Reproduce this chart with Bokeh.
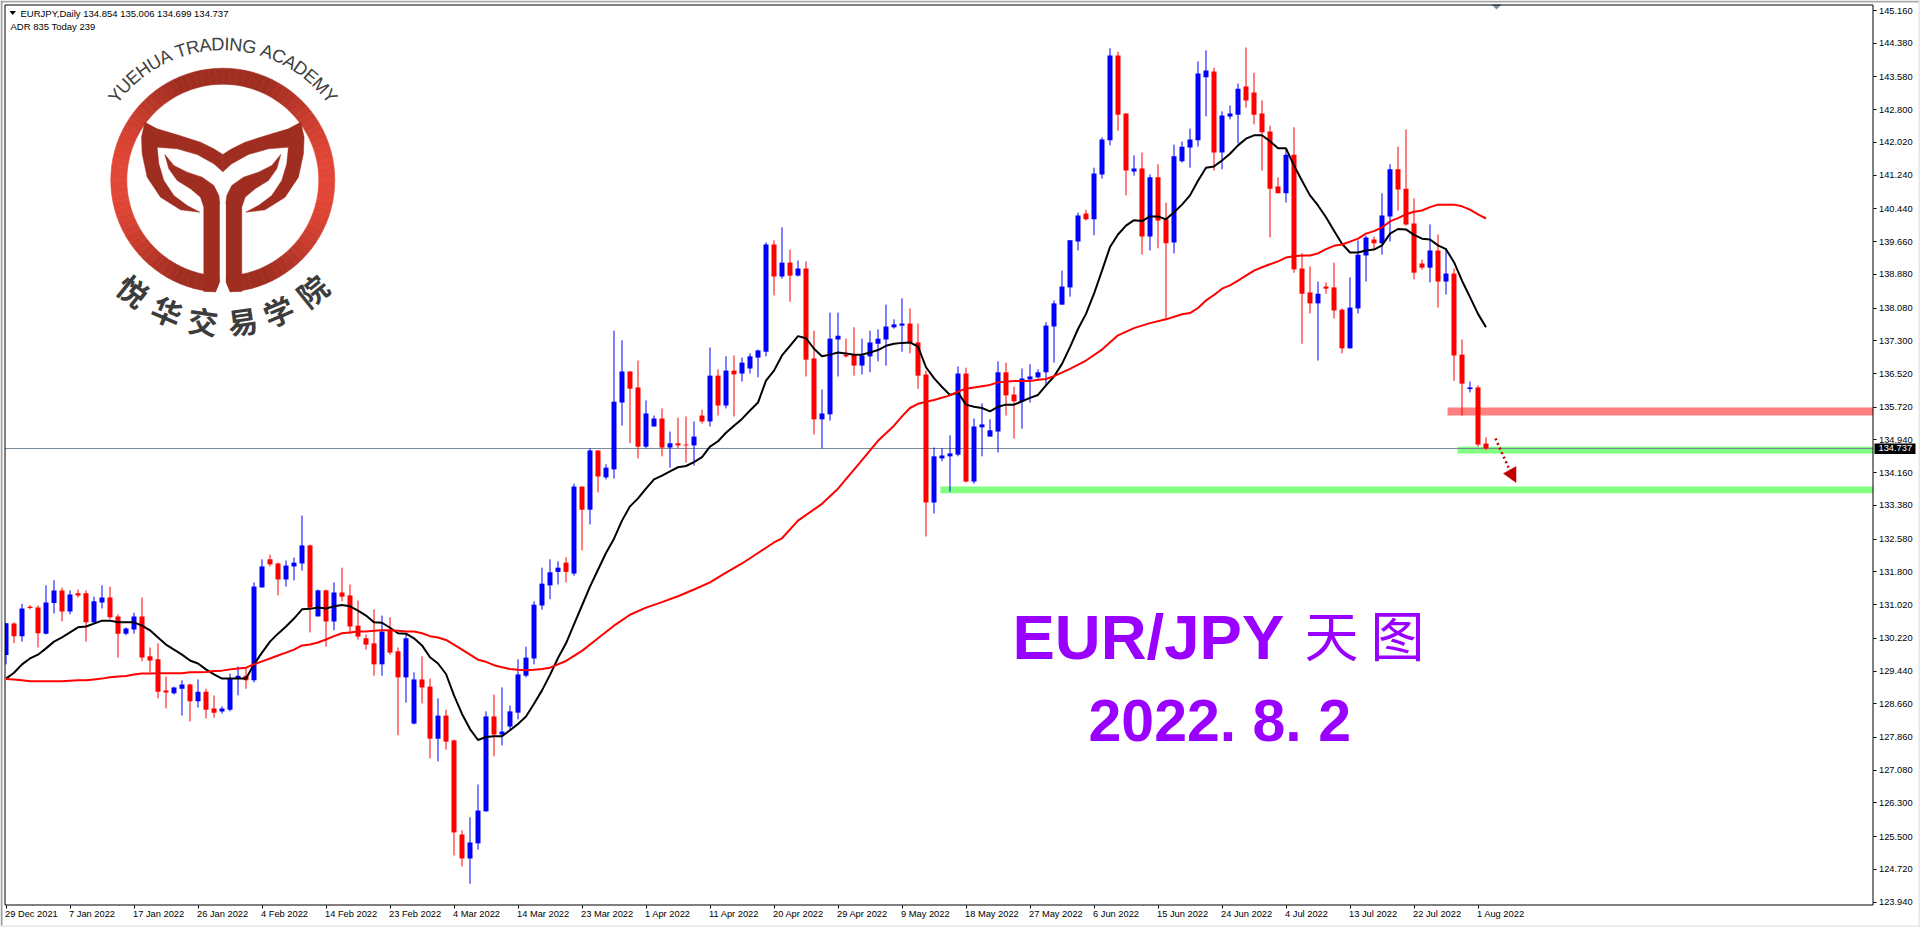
import math
from bokeh.plotting import figure
from bokeh.embed import file_html
from bokeh.resources import INLINE
from bokeh.models import ColumnDataSource, FixedTicker, NumeralTickFormatter, Range1d
from bokeh.core.properties import value

# ---------- data ----------
opens = [129.82,130.57,130.27,130.97,130.95,130.33,131.06,131.36,130.86,131.29,
131.29,130.60,131.07,131.19,130.74,130.33,130.43,130.74,129.79,129.72,
128.98,128.91,129.02,129.12,128.72,128.95,128.55,128.48,128.52,129.26,
129.33,129.22,131.43,132.10,132.00,131.62,131.93,132.00,132.43,130.74,
131.36,130.62,131.31,131.24,130.52,130.22,130.10,129.60,130.41,129.91,
129.29,128.19,129.24,129.07,127.83,128.38,127.79,125.55,124.98,125.34,
126.10,128.36,127.93,128.12,128.45,129.33,129.74,131.00,131.48,131.80,
132.02,131.76,133.83,133.28,134.69,134.05,134.24,135.83,136.57,136.19,
134.78,135.26,135.45,134.76,134.86,134.83,134.81,135.52,135.38,136.47,
135.76,136.59,136.52,136.64,136.90,137.04,139.59,138.83,139.16,138.85,
139.02,136.88,135.43,135.55,137.33,136.97,136.97,136.71,136.93,137.23,
137.33,137.62,137.66,137.71,137.26,136.50,133.45,134.50,134.55,134.59,
136.52,133.95,135.24,135.02,135.14,136.55,136.02,135.86,136.38,136.43,
136.55,137.64,138.16,138.57,139.66,140.33,140.19,141.26,142.07,144.09,
142.71,141.33,141.40,139.78,141.19,140.19,139.64,141.57,141.90,142.07,
143.57,143.71,141.78,142.64,142.68,143.35,143.21,142.71,142.28,140.97,
140.81,141.73,139.02,138.45,138.19,138.59,138.57,138.04,137.12,138.07,
139.33,139.71,139.62,140.26,141.38,140.92,140.09,139.14,139.04,139.45,
138.71,138.90,136.97,136.15,136.19,134.854]
highs = [130.58,130.60,131.04,131.01,131.00,131.48,131.60,131.43,131.36,131.38,
131.36,131.21,131.48,131.45,130.79,130.48,130.83,131.19,130.00,130.10,
129.31,129.07,129.22,129.14,129.24,129.02,128.86,128.60,129.38,129.55,
129.52,131.55,132.10,132.21,132.02,132.07,132.14,133.14,132.45,131.38,
131.38,131.55,131.90,131.50,131.12,130.31,130.91,130.76,130.72,130.00,
130.31,129.41,129.79,129.26,128.79,128.52,127.81,125.65,125.96,126.74,
128.48,128.88,129.05,128.62,129.72,130.02,131.10,131.90,132.10,132.05,
132.15,133.90,133.83,134.74,134.69,134.36,137.54,137.31,136.57,136.83,
135.88,135.52,135.69,135.14,135.47,135.50,135.38,135.66,137.14,136.62,
136.93,136.95,136.90,137.00,137.09,139.64,139.69,140.00,139.47,139.21,
139.19,137.54,136.14,137.97,137.97,137.35,137.62,137.35,137.54,137.57,
138.16,137.81,138.31,138.07,137.71,136.59,134.76,134.74,135.05,136.69,
136.66,135.45,135.81,135.43,136.81,136.78,136.21,136.64,136.74,136.62,
137.74,138.26,138.97,139.69,140.35,140.42,141.42,142.14,144.26,144.18,
142.71,141.71,141.78,141.26,141.50,140.59,141.97,142.04,142.35,143.95,
144.21,143.80,142.76,142.90,143.42,144.28,143.68,143.02,142.42,141.19,
141.88,142.38,139.38,139.07,138.71,138.69,139.16,138.07,138.81,139.69,
139.80,139.78,140.81,141.50,141.92,142.33,140.69,139.23,140.07,139.83,
139.50,139.02,137.33,136.33,136.24,135.006]
lows = [129.60,130.10,130.14,130.91,130.00,130.31,130.81,130.62,130.79,131.19,
130.14,130.57,130.93,130.67,129.76,130.29,130.33,129.67,129.41,128.79,
128.55,128.88,128.38,128.24,128.57,128.31,128.33,128.43,128.48,128.86,
129.02,129.17,131.43,131.93,131.24,131.45,131.60,131.83,130.36,130.74,
130.02,130.41,131.10,130.33,130.19,129.95,129.33,129.33,129.83,127.91,
128.69,128.17,128.67,127.36,127.29,127.57,125.05,124.79,124.38,125.19,
126.10,127.41,127.67,128.03,128.29,129.29,129.60,130.90,131.15,131.50,
131.55,131.71,132.31,132.93,133.69,134.00,134.02,135.28,134.86,134.50,
134.74,135.26,134.55,134.28,134.74,134.40,134.33,135.33,135.26,135.52,
135.69,135.50,136.33,136.52,136.43,136.93,138.38,138.78,138.23,138.83,
136.45,135.07,134.74,135.40,136.45,136.90,136.47,136.50,136.55,136.81,
136.71,137.59,137.04,137.00,136.16,132.64,133.19,134.43,133.71,134.55,
133.93,133.90,134.55,135.02,134.64,135.52,134.97,135.21,135.83,136.40,
136.24,136.78,138.16,138.35,139.45,140.16,139.81,141.16,141.95,142.30,
140.76,141.23,139.35,139.45,139.50,137.81,139.38,141.54,141.42,141.92,
142.64,141.35,141.38,142.57,142.00,142.85,142.45,141.35,139.76,140.81,
140.59,138.92,137.23,137.95,136.83,138.42,137.83,137.00,137.12,137.95,
138.71,139.47,139.35,139.66,140.40,140.04,138.76,138.99,138.69,138.09,
138.40,136.35,135.52,136.07,134.78,134.699]
closes = [130.58,130.27,130.93,130.94,130.34,131.07,131.36,130.86,131.26,131.24,
130.60,131.10,131.19,130.72,130.33,130.45,130.74,129.76,129.69,128.95,
128.93,129.05,129.12,128.72,128.95,128.52,128.45,128.55,129.26,129.33,
129.22,131.45,131.93,131.98,131.62,131.95,132.02,132.43,130.95,131.36,
130.62,131.31,131.21,130.50,130.26,130.07,129.60,130.38,129.88,129.29,
130.22,129.24,129.05,127.83,128.38,127.76,125.60,124.98,125.36,126.12,
128.36,127.93,128.00,128.48,129.36,129.76,131.02,131.52,131.79,131.90,
131.80,133.83,133.28,134.69,134.07,134.28,135.85,136.57,136.16,134.78,
135.57,135.45,134.76,134.86,134.81,134.81,135.02,135.38,136.47,135.76,
136.59,136.50,136.78,136.93,137.07,139.59,138.83,139.16,138.85,139.02,
136.85,135.43,135.57,137.35,137.42,136.93,136.71,136.95,137.26,137.35,
137.64,137.69,137.71,137.26,136.47,133.45,134.55,134.57,134.62,136.52,
133.95,135.26,135.31,135.17,136.55,136.00,135.86,136.40,136.45,136.55,
137.66,138.19,138.59,139.69,140.28,140.19,141.28,142.09,144.09,142.68,
141.35,141.40,139.78,141.19,140.16,139.62,141.69,141.92,142.09,143.66,
143.73,141.78,142.66,142.71,143.30,143.02,142.68,142.26,140.92,140.81,
141.73,139.00,138.42,138.19,138.42,138.54,138.02,137.12,138.09,139.35,
139.76,139.62,140.28,141.38,140.90,140.07,138.92,139.04,139.45,138.71,
138.90,136.95,136.28,136.19,134.83,134.737]

black_ma = [129.26,129.40,129.60,129.74,129.83,129.98,130.14,130.24,130.36,130.48,
130.50,130.57,130.64,130.64,130.60,130.60,130.60,130.52,130.41,130.24,
130.07,129.95,129.83,129.69,129.62,129.48,129.36,129.26,129.26,129.26,
129.26,129.60,129.88,130.14,130.33,130.50,130.69,130.91,130.92,130.95,
130.93,130.98,131.01,130.98,130.88,130.76,130.60,130.59,130.47,130.34,
130.33,130.22,130.05,129.77,129.62,129.37,128.86,128.42,128.06,127.80,
127.87,127.89,127.89,128.03,128.18,128.36,128.66,128.98,129.35,129.75,
130.10,130.55,131.00,131.45,131.85,132.25,132.59,133.02,133.36,133.55,
133.78,134.00,134.09,134.19,134.29,134.32,134.41,134.53,134.78,134.91,
135.11,135.28,135.44,135.64,135.83,136.35,136.59,136.95,137.18,137.41,
137.36,137.11,136.93,136.97,137.02,137.00,136.97,136.97,137.02,137.08,
137.18,137.23,137.25,137.26,137.16,136.67,136.41,136.20,136.01,136.07,
135.78,135.73,135.70,135.62,135.73,135.78,135.78,135.86,135.94,136.01,
136.24,136.45,136.75,137.15,137.58,137.94,138.42,138.97,139.53,139.83,
140.04,140.17,140.15,140.26,140.26,140.19,140.36,140.54,140.76,141.11,
141.42,141.45,141.59,141.75,141.95,142.11,142.19,142.19,142.05,141.88,
141.88,141.47,141.11,140.76,140.52,140.24,139.92,139.61,139.40,139.40,
139.45,139.47,139.57,139.85,139.96,139.95,139.82,139.73,139.71,139.57,
139.48,139.17,138.73,138.34,137.94,137.62]

red_ma_x = list(range(0,68)) + [68,70,72,74,76,78,80,82,84,86,88,90,92,94,96,97,99,102,104,107,109,
111,112,113,114,116,118,119,120,122,123,124,126,128,129,130,131,133,135,137,139,141,143,145,
147] + list(range(148,186))
red_ma_y = [129.25,129.24,129.22,129.20,129.20,129.20,129.20,129.20,129.21,129.22,
129.22,129.24,129.26,129.29,129.31,129.32,129.36,129.38,129.38,129.39,
129.39,129.39,129.39,129.41,129.41,129.42,129.44,129.45,129.48,129.50,
129.52,129.60,129.67,129.74,129.81,129.88,129.95,130.05,130.07,130.12,
130.19,130.27,130.34,130.36,130.38,130.38,130.40,130.41,130.41,130.40,
130.38,130.38,130.34,130.27,130.24,130.18,130.07,129.95,129.83,129.71,
129.66,129.58,129.53,129.49,129.47,129.46,129.47,129.49,
129.52,129.68,129.92,130.22,130.52,130.78,130.95,131.08,131.22,131.38,131.55,131.78,132.00,132.25,
132.50,132.60,133.02,133.42,133.78,134.46,134.92,135.28,135.50,135.70,135.80,135.89,136.00,136.09,
136.16,136.22,136.25,136.31,136.34,136.34,136.37,136.39,136.46,136.63,136.83,137.09,137.43,137.60,
137.72,137.81,137.93,
137.96,138.08,138.26,138.39,138.54,138.62,138.73,138.85,138.97,139.05,139.12,139.19,139.28,139.31,
139.33,139.33,139.38,139.48,139.56,139.59,139.66,139.73,139.85,139.91,140.00,140.14,140.22,140.31,
140.37,140.40,140.48,140.54,140.54,140.54,140.50,140.42,140.31,140.21]

price_ticks = [145.160,144.380,143.580,142.800,142.020,141.240,140.440,139.660,138.880,138.080,
137.300,136.520,135.720,134.940,134.160,133.380,132.580,131.800,131.020,130.220,
129.440,128.660,127.860,127.080,126.300,125.500,124.720,123.940]
date_labels = ["29 Dec 2021","7 Jan 2022","17 Jan 2022","26 Jan 2022","4 Feb 2022","14 Feb 2022",
"23 Feb 2022","4 Mar 2022","14 Mar 2022","23 Mar 2022","1 Apr 2022","11 Apr 2022","20 Apr 2022",
"29 Apr 2022","9 May 2022","18 May 2022","27 May 2022","6 Jun 2022","15 Jun 2022","24 Jun 2022",
"4 Jul 2022","13 Jul 2022","22 Jul 2022","1 Aug 2022"]
date_ticks = [i*8 for i in range(len(date_labels))]
last_price = 134.737
zone_left = [180.19, 181.44, 116.81]
zone_top = [135.71, 134.78, 133.83]
zone_bottom = [135.52, 134.62, 133.67]
zone_color = ["#ff8080", "#80ff80", "#80ff80"]

# ---------- layout helpers (canvas pixels <-> data) ----------
W, H = 1920, 927
XS, PX = 5.5, 8.0
Y0, PY = 10.0, 42.02
def X(px): return (px - XS) / PX
def Y(py): return 145.16 - (py - Y0) / PY
LEFT, RIGHT, TOP, BOTTOM = 4.5, 1872.5, 4.5, 904.5

p = figure(width=W, height=H, output_backend="svg", toolbar_location=None,
           x_range=Range1d(X(0), X(W)), y_range=Range1d(Y(H), Y(0)),
           min_border=0, y_axis_location="right", background_fill_color="white", border_fill_color="white")
p.styles = {"position": "absolute", "left": "0px", "top": "0px"}
p.grid.visible = False
p.outline_line_color = None

FONT = "Liberation Sans"
ax = p.yaxis[0]
ax.fixed_location = X(RIGHT)
ax.ticker = FixedTicker(ticks=price_ticks)
ax.formatter = NumeralTickFormatter(format="0.000")
ax.axis_line_color = None
ax.major_tick_in = 0
ax.major_tick_out = 3
ax.minor_tick_out = 0
ax.minor_tick_in = 0
ax.major_tick_line_color = "black"
ax.major_label_standoff = 3
ax.major_label_text_font = FONT
ax.major_label_text_font_size = "9.3px"
ax.major_label_text_color = "black"

bx = p.xaxis[0]
bx.fixed_location = Y(BOTTOM)
bx.ticker = FixedTicker(ticks=date_ticks)
bx.major_label_overrides = {t: "" for t in date_ticks}
bx.axis_line_color = None
bx.major_tick_in = 0
bx.major_tick_out = 3
bx.minor_tick_out = 0
bx.minor_tick_in = 0
bx.major_tick_line_color = "black"
bx.major_label_text_font_size = "9.3px"
p.text(date_ticks, [Y(913.5)]*len(date_ticks), text=date_labels, x_offset=-1, text_font=value(FONT),
       text_font_size=value("9.3px"), text_color="black", text_align="left", text_baseline="middle")

# zones
p.quad(left=zone_left, right=[X(RIGHT)]*3, top=zone_top, bottom=zone_bottom,
       fill_color=zone_color, line_color=None)
# current price line
p.segment(x0=[X(LEFT)], x1=[X(RIGHT)], y0=[last_price], y1=[last_price], line_color="#778899", line_width=1)

# candles
idx = list(range(len(opens)))
cols = ["#0000ff" if c >= o else "#ff0000" for o, c in zip(opens, closes)]
src = ColumnDataSource(dict(x=idx, o=opens, h=highs, l=lows, c=closes, col=cols,
                            top=[max(a, b) for a, b in zip(opens, closes)],
                            bot=[min(a, b) for a, b in zip(opens, closes)]))
p.segment(x0="x", x1="x", y0="l", y1="h", line_color="col", line_width=1, source=src)
p.vbar(x="x", width=5/PX, top="top", bottom="bot", fill_color="col", line_color=None, source=src)

# moving averages
p.line(idx, black_ma, line_color="black", line_width=2)
p.line(red_ma_x, red_ma_y, line_color="#ff0000", line_width=2)

# arrow (dotted leg and head)
p.line([X(1495), X(1508)], [Y(438), Y(467)], line_color="#c00000", line_width=2.6, line_dash="2 3")
p.patch([X(1503), X(1515.5), X(1515.5)], [Y(473), Y(466), Y(482)], fill_color="#c00000", line_color="#c00000", line_width=0.5)
# chart-shift marker
p.patch([X(1491), X(1501), X(1496)], [Y(4), Y(4), Y(9)], fill_color="#8090a0", line_color=None)

# ---------- chart frame and window edge ----------
p.quad(left=[X(0)], right=[X(LEFT)], top=[Y(0)], bottom=[Y(H)], fill_color="white", line_color=None)
p.segment(x0=[X(LEFT), X(RIGHT), X(LEFT), X(LEFT)], x1=[X(LEFT), X(RIGHT), X(RIGHT), X(RIGHT)],
          y0=[Y(TOP), Y(TOP), Y(TOP), Y(BOTTOM)], y1=[Y(BOTTOM), Y(BOTTOM), Y(TOP), Y(BOTTOM)],
          line_color="black", line_width=1)
p.quad(left=[X(0), X(0), X(1918), X(0)], right=[X(W), X(2), X(W), X(W)],
       top=[Y(0), Y(0), Y(0), Y(925)], bottom=[Y(2), Y(H), Y(H), Y(H)],
       fill_color=["#a8a8a8", "#a0a0a0", "#e8e8e8", "#e8e8e8"], line_color=None)

# ---------- logo ----------
cx, cy = 222.3, 179.7
R_out, R_in = 112.0, 96.0
def lerp_col(t):
    a, b = (0x9f, 0x2d, 0x20), (0xe3, 0x47, 0x37)
    t = max(0.0, min(1.0, (t - 0.35) / 0.65)) ** 1.4
    return "#%02x%02x%02x" % tuple(int(a[i] + (b[i] - a[i]) * t) for i in range(3))
xs, ys, cs = [], [], []
N = 96
for k in range(N):
    t0, t1 = 2*math.pi*k/N, 2*math.pi*(k+1)/N
    pts = [(cx + R_out*math.cos(t0), cy + R_out*math.sin(t0)), (cx + R_out*math.cos(t1), cy + R_out*math.sin(t1)),
           (cx + R_in*math.cos(t1), cy + R_in*math.sin(t1)), (cx + R_in*math.cos(t0), cy + R_in*math.sin(t0))]
    xs.append([X(a) for a, _ in pts]); ys.append([Y(b) for _, b in pts])
    cs.append(lerp_col(abs(math.cos((t0+t1)/2))))
p.patches(xs, ys, fill_color=cs, line_color=cs, line_width=0.6)

def z2p(pts):
    return [(a/3, b/3) for a, b in pts]
wing = z2p([(433,365),(470,385),(530,403),(600,425),(640,445),(667,462),(667,514),(640,490),(590,462),(530,445),(470,440),
            (475,490),(490,540),(520,585),(560,615),(598,635),(540,628),(480,590),(440,530),(425,460),(423,410)])
leaf = z2p([(493,462),(520,495),(560,515),(605,530),(640,555),(655,585),(658,610),(658,845),(640,870),(625,873),(610,873),(610,825),(610,620),
            (600,590),(570,565),(530,540),(505,505)])
mirror = lambda pts: [(2*cx - a, b) for a, b in pts]
for shape in (wing, mirror(wing), leaf, mirror(leaf)):
    p.patch([X(a) for a, _ in shape], [Y(b) for _, b in shape], fill_color="#9f2d20", line_color="#9f2d20", line_width=0.5)
gap = z2p([(658,610),(676,610),(676,845),(690,880),(644,880),(658,845)])
p.patch([X(a) for a, _ in gap], [Y(b) for _, b in gap], fill_color="white", line_color=None)

# curved school name
name = "YUEHUA TRADING ACADEMY"
wd = {"Y":.667,"U":.722,"E":.667,"H":.722,"A":.667," ":.278,"T":.611,"R":.722,"D":.722,"I":.278,"N":.722,"G":.778,"C":.722,"M":.833}
fs, Rt = 18.2, 136.0
total = sum(wd[c] for c in name) * fs
pos = -total/2
tx, ty, ta, tt = [], [], [], []
for c in name:
    w = wd[c]*fs
    th = (pos + w/2)/Rt
    tx.append(X(cx + Rt*math.sin(th))); ty.append(Y(cy - Rt*math.cos(th))); ta.append(-th); tt.append(c)
    pos += w
p.text(tx, ty, text=tt, angle=ta, text_font=value(FONT), text_font_size=value(f"{fs}px"), text_color="#404040",
       text_align="center", text_baseline="middle")

cn = "悦华交易学院"
cn_ang = [39, 23, 8, -8, -23, -39]
Rc = 141.7
tx = [X(cx - Rc*math.sin(math.radians(a))) for a in cn_ang]
ty = [Y(cy + Rc*math.cos(math.radians(a))) for a in cn_ang]
ta = [math.radians(-a) for a in cn_ang]
p.text(tx, ty, text=list(cn), angle=ta, text_font=value("Noto Sans CJK SC"), text_font_style="bold",
       text_font_size=value("30px"), text_color="#3c3c3c", text_align="center", text_baseline="middle")

# ---------- big title ----------
p.text([X(1012)], [Y(636)], text=["EUR/JPY"], text_font=value(FONT), text_font_style="bold",
       text_font_size=value("63.5px"), text_color="#9900ff", text_align="left", text_baseline="middle")
p.text([X(1304)], [Y(633)], text=["天 图"], text_font=value("Noto Sans CJK SC"),
       text_font_size=value("54px"), text_color="#9900ff", text_align="left", text_baseline="middle")
p.text([X(1088)], [Y(720)], text=["2022. 8. 2"], text_font=value(FONT), text_font_style="bold",
       text_font_size=value("59px"), text_color="#9900ff", text_align="left", text_baseline="middle")

# ---------- info text ----------
p.patch([X(9), X(15.5), X(12.2)], [Y(10.5), Y(10.5), Y(14.5)], fill_color="black", line_color=None)
p.text([X(20)], [Y(12.5)], text=["EURJPY,Daily  134.854 135.006 134.699 134.737"], text_font=value(FONT),
       text_font_size=value("9.5px"), text_color="black", text_align="left", text_baseline="middle")
p.text([X(10)], [Y(26)], text=["ADR 835  Today 239"], text_font=value(FONT),
       text_font_size=value("9.5px"), text_color="black", text_align="left", text_baseline="middle")

# price tag on axis
p.quad(left=[X(1874)], right=[X(1915)], top=[Y(443)], bottom=[Y(453.5)], fill_color="black", line_color=None, level="overlay")
p.text([X(1878)], [last_price], text=["134.737"], text_font=value(FONT), text_font_size=value("9.3px"),
       text_color="white", text_align="left", text_baseline="middle", level="overlay")

open("out.html", "w").write(file_html(p, INLINE))
